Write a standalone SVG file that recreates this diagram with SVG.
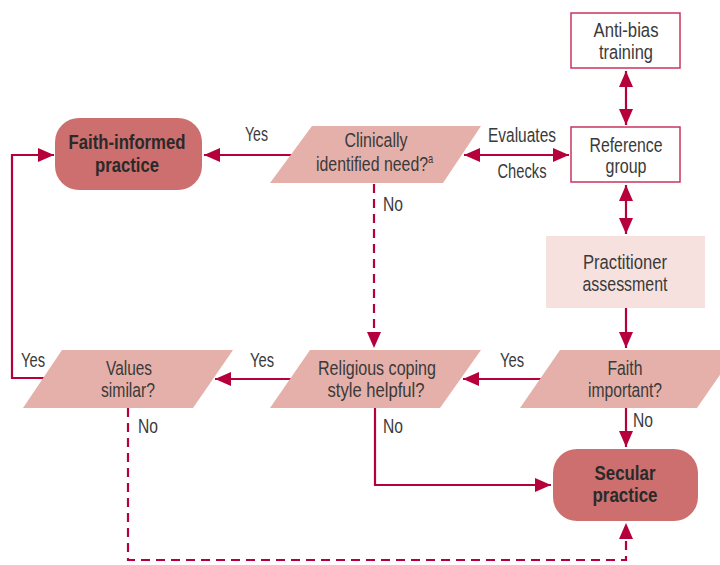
<svg xmlns="http://www.w3.org/2000/svg" width="720" height="565" viewBox="0 0 720 565">
<style>
.t{font-family:"Liberation Sans",Arial,sans-serif;font-size:20.5px;fill:#3a3a3a;text-anchor:middle}
.tb{font-family:"Liberation Sans",Arial,sans-serif;font-size:20.5px;fill:#2a2a2a;text-anchor:middle;font-weight:bold}
.l{font-family:"Liberation Sans",Arial,sans-serif;font-size:20.5px;fill:#3a3a3a}
.box{fill:#ffffff;stroke:#c8345e;stroke-width:1.5}
.dec{fill:#e5b0a9}
.term{fill:#cd6f6e}
.proc{fill:#f6e1de}
.c{fill:none;stroke:#b5003c;stroke-width:2.2}
.d{fill:none;stroke:#b5003c;stroke-width:2.2;stroke-dasharray:9 6}
</style>
<defs>
<marker id="ah" markerUnits="userSpaceOnUse" markerWidth="16" markerHeight="14" refX="16" refY="7" orient="auto-start-reverse">
<path d="M0,0 L16,7 L0,14 z" fill="#b5003c"/>
</marker>
</defs>
<g id="connectors">
<line class="c" x1="626" y1="71" x2="626" y2="125" marker-start="url(#ah)" marker-end="url(#ah)"/>
<line class="c" x1="626" y1="185" x2="626" y2="234" marker-start="url(#ah)" marker-end="url(#ah)"/>
<line class="c" x1="626" y1="308" x2="626" y2="348" marker-end="url(#ah)"/>
<line class="c" x1="464" y1="155" x2="569" y2="155" marker-start="url(#ah)" marker-end="url(#ah)"/>
<line class="c" x1="292" y1="155" x2="204" y2="155" marker-end="url(#ah)"/>
<line class="d" x1="374" y1="184" x2="374" y2="348" marker-end="url(#ah)"/>
<path class="c" d="M45,378 H12 V155 H54" marker-end="url(#ah)"/>
<line class="c" x1="292" y1="379" x2="215" y2="379" marker-end="url(#ah)"/>
<line class="c" x1="541" y1="379" x2="463" y2="379" marker-end="url(#ah)"/>
<line class="c" x1="626" y1="408" x2="626" y2="447" marker-end="url(#ah)"/>
<path class="c" d="M375,408 V485 H551" marker-end="url(#ah)"/>
<path class="d" d="M128,408 V560 H626 V523" marker-end="url(#ah)"/>
</g>
<g id="labels">
<text class="l" x="245" y="141" textLength="23" lengthAdjust="spacingAndGlyphs">Yes</text>
<text class="t" x="522" y="142" textLength="68" lengthAdjust="spacingAndGlyphs">Evaluates</text>
<text class="t" x="522" y="178" textLength="49" lengthAdjust="spacingAndGlyphs">Checks</text>
<text class="l" x="383" y="211" textLength="20" lengthAdjust="spacingAndGlyphs">No</text>
<text class="l" x="21" y="367" textLength="24" lengthAdjust="spacingAndGlyphs">Yes</text>
<text class="l" x="250" y="367" textLength="24" lengthAdjust="spacingAndGlyphs">Yes</text>
<text class="l" x="500" y="367" textLength="24" lengthAdjust="spacingAndGlyphs">Yes</text>
<text class="l" x="633" y="427" textLength="20" lengthAdjust="spacingAndGlyphs">No</text>
<text class="l" x="383" y="433" textLength="20" lengthAdjust="spacingAndGlyphs">No</text>
<text class="l" x="138" y="433" textLength="20" lengthAdjust="spacingAndGlyphs">No</text>
</g>
<g id="anti-bias">
<rect class="box" x="571" y="13" width="109" height="55"/>
<text class="t" x="626" y="37" textLength="65" lengthAdjust="spacingAndGlyphs">Anti-bias</text>
<text class="t" x="626" y="59" textLength="54" lengthAdjust="spacingAndGlyphs">training</text>
</g>
<g id="reference-group">
<rect class="box" x="571" y="127" width="109" height="55"/>
<text class="t" x="626" y="152" textLength="73" lengthAdjust="spacingAndGlyphs">Reference</text>
<text class="t" x="626" y="173" textLength="41" lengthAdjust="spacingAndGlyphs">group</text>
</g>
<g id="practitioner-assessment">
<rect class="proc" x="546" y="236" width="159" height="72"/>
<text class="t" x="625" y="269" textLength="84" lengthAdjust="spacingAndGlyphs">Practitioner</text>
<text class="t" x="625" y="291" textLength="85" lengthAdjust="spacingAndGlyphs">assessment</text>
</g>
<g id="clinically-identified-need">
<polygon class="dec" points="312,126 481,126 443,183 270,183"/>
<text class="t" x="376" y="147" textLength="63" lengthAdjust="spacingAndGlyphs">Clinically</text>
<text class="l" transform="translate(316,171) scale(0.774,1)" x="0" y="0">identified need?<tspan dy="-8" style="font-size:12px">a</tspan></text>
</g>
<g id="faith-informed-practice">
<rect class="term" x="55" y="118" width="147" height="72" rx="24" ry="24"/>
<text class="tb" x="127" y="149" textLength="117" lengthAdjust="spacingAndGlyphs">Faith-informed</text>
<text class="tb" x="127" y="172" textLength="64" lengthAdjust="spacingAndGlyphs">practice</text>
</g>
<g id="values-similar">
<polygon class="dec" points="62,350 233,350 193,408 23,408"/>
<text class="t" x="129" y="375" textLength="46" lengthAdjust="spacingAndGlyphs">Values</text>
<text class="t" x="128" y="397" textLength="54" lengthAdjust="spacingAndGlyphs">similar?</text>
</g>
<g id="religious-coping">
<polygon class="dec" points="310,350 481,350 440,408 270,408"/>
<text class="t" x="377" y="375" textLength="118" lengthAdjust="spacingAndGlyphs">Religious coping</text>
<text class="t" x="376" y="397" textLength="97" lengthAdjust="spacingAndGlyphs">style helpful?</text>
</g>
<g id="faith-important">
<polygon class="dec" points="560,350 737,350 697,408 520,408"/>
<text class="t" x="625" y="375" textLength="35" lengthAdjust="spacingAndGlyphs">Faith</text>
<text class="t" x="625" y="397" textLength="74" lengthAdjust="spacingAndGlyphs">important?</text>
</g>
<g id="secular-practice">
<rect class="term" x="553" y="449" width="145" height="72" rx="24" ry="24"/>
<text class="tb" x="625" y="480" textLength="61" lengthAdjust="spacingAndGlyphs">Secular</text>
<text class="tb" x="625" y="502" textLength="65" lengthAdjust="spacingAndGlyphs">practice</text>
</g>
</svg>
